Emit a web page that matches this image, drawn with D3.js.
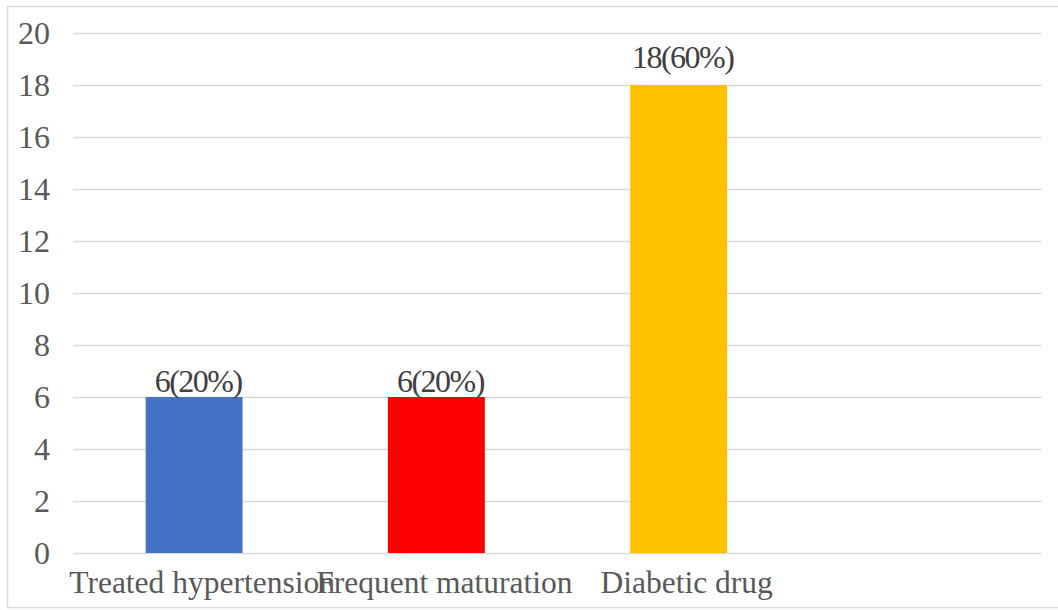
<!DOCTYPE html>
<html>
<head>
<meta charset="utf-8">
<script src="https://cdn.jsdelivr.net/npm/d3@7"></script>
<style>
  html, body { margin: 0; padding: 0; background: #fff; }
  svg { display: block; }
</style>
</head>
<body>
<svg id="chart" width="1058" height="610"></svg>
<script>
// Categories (the fourth slot is left empty on the axis)
const categories = ["Treated hypertension", "Frequent maturation", "Diabetic drug", ""];
const counts = [6, 6, 18, null];
const valueLabels = ["6(20%)", "6(20%)", "18(60%)", null];
const barColors = ["#4472C4", "#FF0000", "#FFC000", "#A5A5A5"];
const yTicks = [0, 2, 4, 6, 8, 10, 12, 14, 16, 18, 20];

const svg = d3.select("#chart");
const W = 1058, H = 610;
const plot = { left: 73, right: 1042, top: 33, bottom: 553 };
const textColor = "#595959";
const gridColor = "#D9D9D9";
const font = "'Liberation Serif', 'Times New Roman', serif";

// Chart area border
svg.append("rect")
  .attr("x", 7.5).attr("y", 6.5)
  .attr("width", W).attr("height", 601)
  .attr("fill", "#fff")
  .attr("stroke", gridColor).attr("stroke-width", 1.5);

const x = d3.scaleBand()
  .domain(d3.range(categories.length))
  .range([plot.left, plot.right])
  .padding(0);

const y = d3.scaleLinear()
  .domain([0, 20])
  .range([plot.bottom, plot.top]);

// Horizontal gridlines and value axis labels
const yAxis = d3.axisLeft(y)
  .tickValues(yTicks)
  .tickSize(-(plot.right - plot.left))
  .tickPadding(23)
  .tickFormat(d3.format("d"));

const gy = svg.append("g")
  .attr("transform", `translate(${plot.left},0)`)
  .call(yAxis);
gy.select(".domain").remove();
gy.selectAll(".tick line")
  .attr("stroke", gridColor)
  .attr("stroke-width", 1.5);
gy.selectAll(".tick text")
  .attr("fill", textColor)
  .attr("font-family", font)
  .attr("font-size", 32)
  .attr("dy", "0.34em");

// Bars
const barW = x.bandwidth() * 0.4;
const idx = d3.range(categories.length).filter(i => counts[i] != null);

svg.append("g").selectAll("rect")
  .data(idx)
  .join("rect")
  .attr("x", i => x(i) + (x.bandwidth() - barW) / 2)
  .attr("y", i => y(counts[i]))
  .attr("width", barW)
  .attr("height", i => y(0) - y(counts[i]))
  .attr("fill", i => barColors[i]);

// Value labels above the bars
const labelLift = i => (counts[i] >= 10 ? 17 : 5);
svg.append("g").selectAll("text")
  .data(idx)
  .join("text")
  .attr("x", i => x(i) + x.bandwidth() / 2 + 4)
  .attr("y", i => y(counts[i]) - labelLift(i))
  .attr("text-anchor", "middle")
  .attr("fill", "#404040")
  .attr("font-family", font)
  .attr("font-size", 32)
  .attr("letter-spacing", -1.5)
  .text(i => valueLabels[i]);

// Category axis labels
svg.append("g").selectAll("text")
  .data(d3.range(categories.length))
  .join("text")
  .attr("x", i => x(i) + x.bandwidth() / 2 + 8)
  .attr("y", 593)
  .attr("text-anchor", "middle")
  .attr("fill", textColor)
  .attr("font-family", font)
  .attr("font-size", 31.5)
  .text(i => categories[i]);
</script>
</body>
</html>
